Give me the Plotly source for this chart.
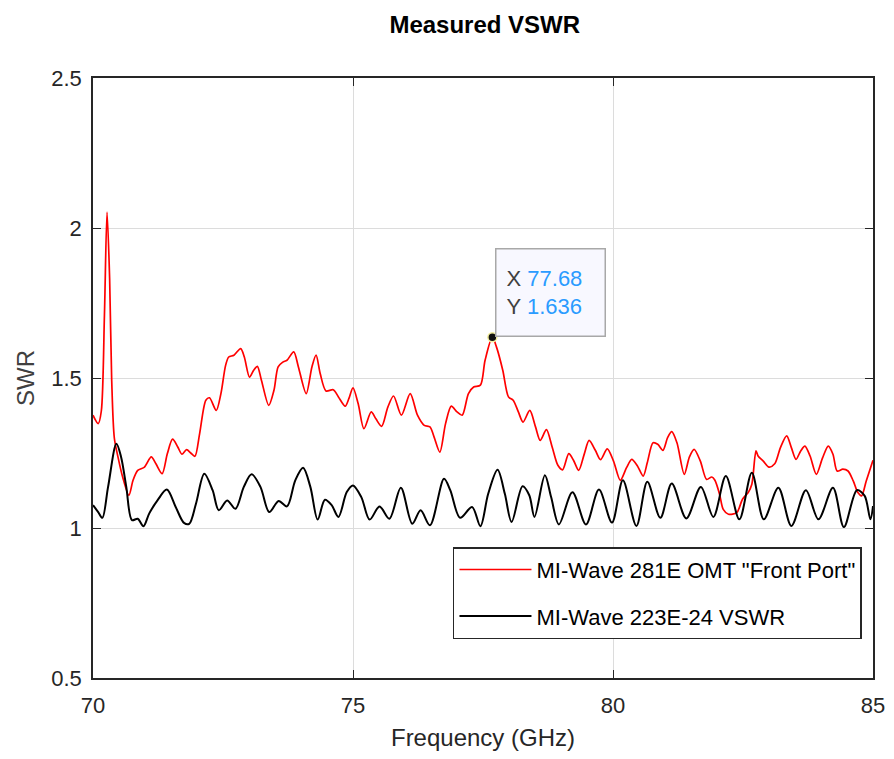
import plotly.graph_objects as go

# ---------------- data ----------------
red_freq = [70.0, 70.1, 70.16, 70.22, 70.27, 70.32, 70.36, 70.41, 70.48, 70.57, 70.69, 70.77, 70.86, 70.99,
            71.12, 71.21, 71.33, 71.43, 71.53, 71.63, 71.71, 71.8, 71.88, 71.96, 72.05, 72.17, 72.24, 72.37,
            72.46, 72.55, 72.61, 72.71, 72.84, 72.91, 73.01, 73.09, 73.16, 73.24, 73.38, 73.48, 73.56, 73.65,
            73.73, 73.86, 73.95, 74.1, 74.21, 74.29, 74.37, 74.48, 74.62, 74.72, 74.85, 74.92, 75.0, 75.1,
            75.21, 75.35, 75.44, 75.55, 75.67, 75.78, 75.93, 76.1, 76.24, 76.37, 76.48, 76.56, 76.67, 76.78,
            76.89, 77.0, 77.1, 77.22, 77.32, 77.45, 77.54, 77.68, 77.76, 77.88, 77.99, 78.08, 78.18, 78.27,
            78.4, 78.51, 78.6, 78.72, 78.83, 78.94, 79.03, 79.15, 79.24, 79.34, 79.45, 79.54, 79.66, 79.76,
            79.89, 80.01, 80.14, 80.26, 80.36, 80.47, 80.58, 80.66, 80.77, 80.86, 80.96, 81.05, 81.13, 81.23,
            81.37, 81.47, 81.56, 81.68, 81.8, 81.9, 81.96, 82.05, 82.12, 82.22, 82.38, 82.49, 82.6, 82.67,
            82.75, 82.79, 82.89, 83.0, 83.11, 83.22, 83.34, 83.43, 83.52, 83.61, 83.69, 83.79, 83.91, 84.03,
            84.14, 84.23, 84.31, 84.42, 84.52, 84.62, 84.71, 84.78, 84.87, 85.0]
red_swr = [1.376, 1.348, 1.39, 1.71, 2.053, 1.83, 1.49, 1.30, 1.237, 1.17, 1.109, 1.159, 1.192, 1.203,
           1.237, 1.214, 1.181, 1.248, 1.296, 1.27, 1.246, 1.261, 1.25, 1.239, 1.314, 1.426, 1.434, 1.392,
           1.448, 1.542, 1.57, 1.576, 1.598, 1.57, 1.503, 1.526, 1.539, 1.492, 1.409, 1.459, 1.537, 1.553,
           1.559, 1.587, 1.537, 1.448, 1.537, 1.576, 1.514, 1.457, 1.461, 1.437, 1.406, 1.431, 1.467, 1.414,
           1.331, 1.387, 1.364, 1.339, 1.403, 1.44, 1.376, 1.448, 1.376, 1.342, 1.337, 1.303, 1.253, 1.348,
           1.406, 1.387, 1.376, 1.448, 1.47, 1.476, 1.559, 1.636, 1.603, 1.526, 1.437, 1.426, 1.387, 1.353,
           1.392, 1.337, 1.292, 1.328, 1.27, 1.209, 1.194, 1.248, 1.226, 1.192, 1.248, 1.292, 1.259, 1.228,
           1.264, 1.223, 1.159, 1.201, 1.229, 1.207, 1.173, 1.218, 1.284, 1.279, 1.259, 1.301, 1.321, 1.284,
           1.179, 1.237, 1.262, 1.223, 1.162, 1.17, 1.159, 1.112, 1.062, 1.046, 1.051, 1.096, 1.118, 1.146,
           1.257, 1.24, 1.223, 1.203, 1.214, 1.268, 1.307, 1.268, 1.229, 1.257, 1.273, 1.24, 1.179, 1.234,
           1.273, 1.246, 1.19, 1.196, 1.19, 1.157, 1.118, 1.107, 1.157, 1.226]

black_freq = [70.0, 70.1, 70.18, 70.29, 70.45, 70.54, 70.64, 70.75, 70.86, 70.97, 71.08, 71.24, 71.42, 71.59,
              71.75, 71.85, 71.98, 72.14, 72.3, 72.42, 72.58, 72.74, 72.9, 73.05, 73.22, 73.39, 73.57, 73.73,
              73.89, 74.04, 74.18, 74.32, 74.46, 74.59, 74.72, 74.88, 75.0, 75.16, 75.32, 75.51, 75.7, 75.92,
              76.14, 76.3, 76.48, 76.75, 76.87, 77.06, 77.29, 77.45, 77.6, 77.78, 77.92, 78.05, 78.26, 78.39,
              78.49, 78.69, 78.81, 78.96, 79.22, 79.48, 79.73, 79.98, 80.19, 80.45, 80.66, 80.91, 81.13, 81.41,
              81.69, 81.93, 82.17, 82.43, 82.67, 82.9, 83.18, 83.43, 83.71, 83.95, 84.23, 84.44, 84.69, 84.84,
              84.95, 85.0]
black_swr = [1.076, 1.053, 1.034, 1.137, 1.281, 1.237, 1.137, 1.026, 1.031, 1.006, 1.048, 1.092, 1.128, 1.07,
             1.017, 1.014, 1.081, 1.181, 1.126, 1.059, 1.092, 1.064, 1.137, 1.179, 1.137, 1.053, 1.09, 1.072,
             1.159, 1.201, 1.137, 1.028, 1.094, 1.076, 1.037, 1.12, 1.142, 1.103, 1.028, 1.072, 1.031, 1.134,
             1.014, 1.059, 1.009, 1.164, 1.126, 1.034, 1.07, 1.006, 1.114, 1.194, 1.114, 1.02, 1.139, 1.109,
             1.037, 1.176, 1.103, 1.012, 1.119, 1.012, 1.128, 1.018, 1.159, 1.007, 1.154, 1.034, 1.148, 1.032,
             1.137, 1.037, 1.173, 1.029, 1.184, 1.029, 1.134, 1.007, 1.126, 1.029, 1.134, 1.003, 1.126, 1.107,
             1.029, 1.073]

tip_x = [77.68]
tip_y = [1.636]

x_ticks = [70, 75, 80, 85]
y_ticks = [0.5, 1, 1.5, 2, 2.5]

red_name = 'MI-Wave 281E OMT "Front Port"'
black_name = 'MI-Wave 223E-24 VSWR'

FONT = "Liberation Sans, Arial, sans-serif"
AX = "#262626"

fig = go.Figure()
fig.add_trace(go.Scatter(x=red_freq, y=red_swr, mode="lines", name=red_name,
                         legendgroup="a",
                         line=dict(color="#ff0000", width=1.7, shape="spline", smoothing=0.8)))
fig.add_trace(go.Scatter(x=black_freq, y=black_swr, mode="lines", name=black_name,
                         legendgroup="b",
                         line=dict(color="#000000", width=2, shape="spline", smoothing=0.9)))
fig.add_trace(go.Scatter(x=tip_x, y=tip_y, mode="markers", showlegend=False,
                         marker=dict(color="#111111", size=9, line=dict(color="#f5f0a0", width=1.5))))

fig.add_annotation(
    x=tip_x[0], y=tip_y[0], xref="x", yref="y",
    text=(f"X <span style='color:#2a9bff'>{tip_x[0]:.2f}</span><br>"
          f"Y <span style='color:#2a9bff'>{tip_y[0]:.3f}</span>"),
    showarrow=False, xanchor="left", yanchor="bottom", xshift=3, yshift=0,
    align="left", valign="middle", width=88, height=66,
    bgcolor="#f8f8ff", bordercolor="#a8a8a8", borderwidth=1.5, borderpad=10,
    font=dict(family=FONT, size=22, color="#404040"),
)

# page body has an 8px margin: figure is offset by (8, 8) in the window,
# so the figure is sized to fit inside the 894x759 window without scrolling
fig.update_layout(
    width=878, height=743,
    paper_bgcolor="white", plot_bgcolor="white",
    margin=dict(l=85, r=13, t=70, b=73),
    font=dict(family=FONT, color=AX),
    title=dict(text="<b>Measured VSWR</b>", x=0.543, xanchor="center",
               y=1 - 17 / 743, yanchor="middle", yref="container",
               font=dict(family=FONT, size=24, color="#000000")),
    showlegend=True,
    legend=dict(x=0.4615, y=0.218, xanchor="left", yanchor="top",
                bgcolor="white", bordercolor=AX, borderwidth=1.5,
                font=dict(family=FONT, size=22, color="#000000"),
                itemwidth=72, traceorder="grouped", tracegroupgap=15),
)

fig.update_xaxes(range=[70, 85], tickvals=x_ticks, ticktext=[str(v) for v in x_ticks],
                 automargin=False,
                 showgrid=True, gridcolor="#dcdcdc", gridwidth=1,
                 showline=True, linecolor=AX, linewidth=1.6, mirror="ticks",
                 ticks="inside", ticklen=8, tickcolor=AX, tickwidth=1.2,
                 tickfont=dict(family=FONT, size=22, color=AX),
                 ticklabelstandoff=7,
                 zeroline=False,
                 title=dict(text="Frequency (GHz)", standoff=12,
                            font=dict(family=FONT, size=24, color=AX)))
fig.update_yaxes(range=[0.5, 2.5], tickvals=y_ticks, ticktext=["0.5", "1", "1.5", "2", "2.5"],
                 automargin=False,
                 showgrid=True, gridcolor="#dcdcdc", gridwidth=1,
                 showline=True, linecolor=AX, linewidth=1.6, mirror="ticks",
                 ticks="inside", ticklen=8, tickcolor=AX, tickwidth=1.2,
                 tickfont=dict(family=FONT, size=22, color=AX),
                 ticklabelstandoff=5,
                 zeroline=False,
                 title=dict(text="SWR", standoff=10,
                            font=dict(family=FONT, size=24, color="#404040")))

fig.write_html("out.html")
